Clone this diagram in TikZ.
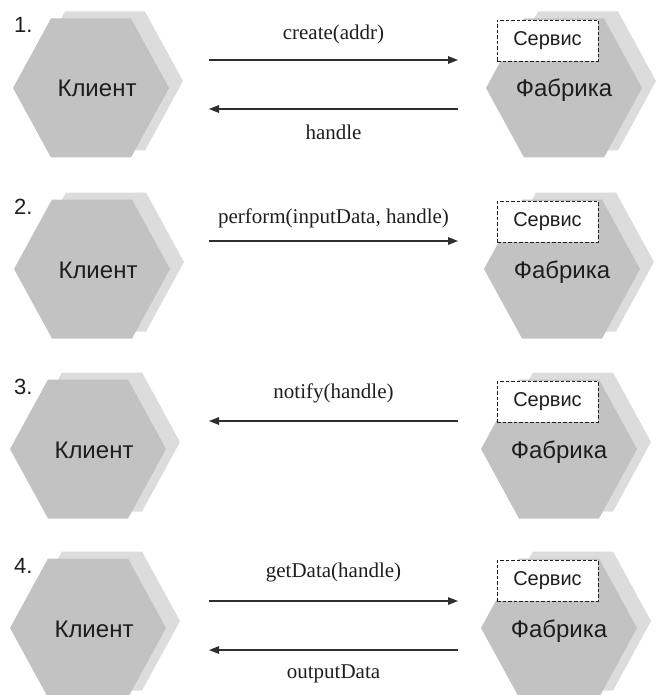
\documentclass[tikz,border=0pt]{standalone}
\usepackage{fontspec}
\setmainfont{Liberation Serif}
\setsansfont{Liberation Sans}
\usetikzlibrary{arrows.meta}

\definecolor{hexfront}{HTML}{C2C2C2}
\definecolor{hexback}{HTML}{DCDCDC}
\definecolor{ink}{HTML}{1E1E1E}
\definecolor{wire}{HTML}{2E2E2E}

\tikzset{
  hexfill/.style={fill=hexfront},
  hexshade/.style={fill=hexback},
  hexstack/.pic={
    \fill[hexshade] (-64,-7) -- (-26,-76.5) -- (54,-76.5) -- (92,-7)
                    -- (54,62.5) -- (-26,62.5) -- cycle;
    \fill[hexfill]  (-78,0) -- (-40,-69.5) -- (40,-69.5) -- (78,0)
                    -- (40,69.5) -- (-40,69.5) -- cycle;
  },
  bigtext/.style={font=\sffamily\fontsize{24}{28}\selectfont, text=ink, anchor=base, inner sep=0pt},
  numtext/.style={font=\sffamily\fontsize{22}{26}\selectfont, text=ink, anchor=base west, inner sep=0pt},
  servicebox/.style={draw=ink, line width=0.9pt, dash pattern=on 3.5pt off 2pt,
    fill=white, minimum width=101pt, minimum height=41pt, inner sep=0pt,
    font=\sffamily\fontsize{20}{24}\selectfont, text=ink},
  msg/.style={draw=wire, line width=1.4pt, -{Triangle[length=10pt,width=7.5pt]}},
  msglabel/.style={font=\fontsize{21}{25}\selectfont, text=ink, anchor=base, inner sep=0pt},
}

\begin{document}
\begin{tikzpicture}[x=1pt,y=-1pt]
  \useasboundingbox (0,0) rectangle (656,695);
  \clip (0,0) rectangle (656,695);

  % four steps: number, client stack, factory stack with its service
  \foreach \n/\cy/\kx/\fx in {1/88/91/564, 2/269/92/562, 3/449/88/559, 4/628/88/559} {
    \pic at (\kx,\cy) {hexstack};
    \pic at (\fx,\cy) {hexstack};
    \node[numtext] (num\n) at (14,\cy-55) {\n.};
    \node[bigtext] (client\n) at (\kx+6,\cy+9) {Клиент};
    \node[bigtext] (factory\n) at (\fx,\cy+9) {Фабрика};
    \node[servicebox] (service\n) at (547.5,\cy-47.5) {Сервис};
  }

  % ends of the message arrows
  \coordinate (c1a) at (209,60);  \coordinate (f1a) at (458,60);
  \coordinate (c1b) at (209,109); \coordinate (f1b) at (458,109);
  \coordinate (c2a) at (209,241); \coordinate (f2a) at (458,241);
  \coordinate (c3a) at (209,421); \coordinate (f3a) at (458,421);
  \coordinate (c4a) at (209,601); \coordinate (f4a) at (458,601);
  \coordinate (c4b) at (209,650); \coordinate (f4b) at (458,650);

  % step 1
  \draw[msg] (c1a) -- (f1a);
  \draw[msg] (f1b) -- (c1b);
  \node[msglabel] (m1a) at (333.5,40) {create(addr)};
  \node[msglabel] (m1b) at (333.5,140) {handle};

  % step 2
  \draw[msg] (c2a) -- (f2a);
  \node[msglabel] (m2a) at (333.5,223) {perform(inputData, handle)};

  % step 3
  \draw[msg] (f3a) -- (c3a);
  \node[msglabel] (m3a) at (333.5,398) {notify(handle)};

  % step 4
  \draw[msg] (c4a) -- (f4a);
  \draw[msg] (f4b) -- (c4b);
  \node[msglabel] (m4a) at (333.5,577) {getData(handle)};
  \node[msglabel] (m4b) at (333.5,678) {outputData};
\end{tikzpicture}
\end{document}
